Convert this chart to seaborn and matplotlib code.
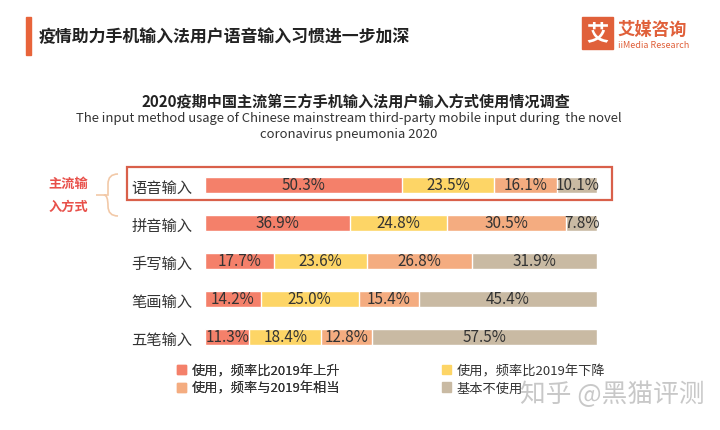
import matplotlib
matplotlib.use('Agg')
import matplotlib.pyplot as plt
import seaborn as sns
import numpy as np
import pandas as pd
from matplotlib.patches import Patch, Rectangle, PathPatch
from matplotlib.path import Path

sns.set_style('white')
plt.rcParams['font.family'] = ['Noto Sans CJK SC', 'DejaVu Sans']

methods = ['语音输入', '拼音输入', '手写输入', '笔画输入', '五笔输入']
groups = ['使用，频率比2019年上升', '使用，频率比2019年下降', '使用，频率与2019年相当', '基本不使用']
rise = [50.3, 36.9, 17.7, 14.2, 11.3]
fall = [23.5, 24.8, 23.6, 25.0, 18.4]
same = [16.1, 30.5, 26.8, 15.4, 12.8]
unused = [10.1, 7.8, 31.9, 45.4, 57.5]
colors = ['#F4806A', '#FDD566', '#F4AC80', '#C9BAA3']

W, H = 720, 431
def fx(x): return x / W
def fy(y): return 1 - y / H

df = pd.DataFrame({'method': methods, groups[0]: rise, groups[1]: fall,
                   groups[2]: same, groups[3]: unused})
cum = df[groups].cumsum(axis=1)

fig = plt.figure(figsize=(7.2, 4.31), dpi=100)
ax = fig.add_axes([fx(205), fy(357), 392 / W, 190 / H])

# stacked bars: draw cumulative totals from the back to the front
for g, c in reversed(list(zip(groups, colors))):
    sns.barplot(x=cum[g], y=df['method'], orient='h', color=c, width=0.42,
                saturation=1, ax=ax)

for i, m in enumerate(methods):
    left = 0
    for g in groups:
        v = df.loc[i, g]
        ax.text(left + v / 2, i, f'{v:.1f}%', ha='center', va='center',
                fontsize=11, color='#333333')
        left += v

ax.set_xlim(0, 100)
ax.set_ylim(4.5, -0.5)
ax.set_xlabel('')
ax.set_ylabel('')
ax.set_xticks([])
ax.tick_params(axis='y', length=0, pad=9, labelsize=11, labelcolor='#333333')
sns.despine(ax=ax, left=True, bottom=True)

# header
fig.patches.append(Rectangle((fx(26), fy(56)), 5 / W, 38 / H, transform=fig.transFigure,
                             color='#E8643A'))
fig.text(fx(39), fy(37), '疫情助力手机输入法用户语音输入习惯进一步加深', fontsize=12.2,
         fontweight='bold', color='#222222', va='center')

# logo
fig.patches.append(Rectangle((fx(582), fy(50)), 31 / W, 32 / H, transform=fig.transFigure,
                             color='#E0603A'))
fig.text(fx(597.5), fy(34), '艾', fontsize=16, fontweight='bold', color='white',
         ha='center', va='center')
fig.text(fx(617), fy(30), '艾媒咨询', fontsize=12.5, fontweight='bold', color='#E0603A',
         va='center')
fig.text(fx(618), fy(46), 'iiMedia Research', fontsize=6.5, color='#E0603A', va='center')

# chart titles
fig.text(fx(356), fy(102), '2020疫期中国主流第三方手机输入法用户输入方式使用情况调查',
         fontsize=10.9, fontweight='bold', color='#222222', ha='center', va='center')
fig.text(fx(349), fy(119),
         'The input method usage of Chinese mainstream third-party mobile input during  the novel',
         fontsize=9.4, color='#333333', ha='center', va='center')
fig.text(fx(349), fy(135), 'coronavirus pneumonia 2020', fontsize=9.4, color='#333333',
         ha='center', va='center')

# highlight box round the first row
fig.patches.append(Rectangle((fx(127), fy(201)), 485 / W, 33 / H, transform=fig.transFigure,
                             fill=False, edgecolor='#D9604A', linewidth=1.6))

# brace and side label
verts = [(118, 175), (108, 175), (108, 185), (108, 196), (104, 196), (96, 196),
         (104, 196), (108, 196), (108, 207), (108, 217), (118, 217)]
verts = [(fx(x), fy(y)) for x, y in verts]
codes = [Path.MOVETO, Path.CURVE3, Path.CURVE3, Path.LINETO, Path.CURVE3, Path.CURVE3,
         Path.MOVETO, Path.CURVE3, Path.CURVE3, Path.CURVE3, Path.CURVE3]
fig.patches.append(PathPatch(Path(verts, codes), transform=fig.transFigure, fill=False,
                             edgecolor='#F2C9A8', linewidth=1.2))
fig.text(fx(68), fy(184), '主流输', fontsize=9.5, fontweight='bold', color='#E8504A',
         ha='center', va='center')
fig.text(fx(68), fy(207), '入方式', fontsize=9.5, fontweight='bold', color='#E8504A',
         ha='center', va='center')

# legend in two columns
handles = [Patch(color=c, label=g) for g, c in zip(groups, colors)]
leg_kw = dict(loc='upper left', frameon=False, fontsize=9.5, handlelength=0.7,
              handleheight=0.7, handletextpad=0.4, labelspacing=0.35,
              labelcolor='#333333', borderaxespad=0, borderpad=0)
leg1 = fig.legend(handles=[handles[0], handles[2]], bbox_to_anchor=(fx(177), fy(365)),
                  **leg_kw)
fig.add_artist(leg1)
fig.legend(handles=[handles[1], handles[3]], bbox_to_anchor=(fx(442), fy(365)), **leg_kw)

# watermark
fig.text(fx(612), fy(395), '知乎 @黑猫评测', fontsize=18.5, color='#BBBBBB', alpha=0.8,
         ha='center', va='center')

fig.savefig('out.png', dpi=100)
